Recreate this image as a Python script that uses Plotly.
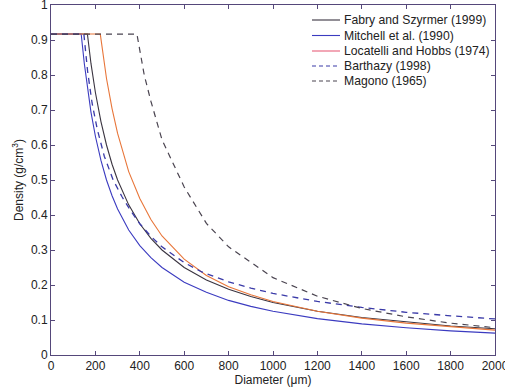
import plotly.graph_objects as go

# Fabry and Szyrmer (1999)
fabry_d = [0, 164, 180, 200, 225, 250, 275, 300, 350, 400, 450, 500, 600, 700, 800, 900, 1000, 1200, 1400, 1600, 1800, 2000]
fabry_rho = [0.917, 0.917, 0.833, 0.75, 0.667, 0.60, 0.545, 0.50, 0.429, 0.375, 0.333, 0.30, 0.25, 0.214, 0.188, 0.167, 0.15, 0.125, 0.107, 0.094, 0.083, 0.075]

# Mitchell et al. (1990)
mitchell_d = [0, 136, 150, 165, 180, 200, 225, 250, 275, 300, 350, 400, 450, 500, 600, 700, 800, 900, 1000, 1200, 1400, 1600, 1800, 2000]
mitchell_rho = [0.917, 0.917, 0.833, 0.758, 0.694, 0.625, 0.556, 0.50, 0.455, 0.417, 0.357, 0.3125, 0.278, 0.25, 0.208, 0.179, 0.156, 0.139, 0.125, 0.104, 0.089, 0.078, 0.069, 0.0625]

# Locatelli and Hobbs (1974)
locatelli_d = [0, 222, 250, 275, 300, 350, 400, 450, 500, 600, 700, 800, 900, 1000, 1200, 1400, 1600, 1800, 2000]
locatelli_rho = [0.917, 0.917, 0.79, 0.704, 0.633, 0.524, 0.447, 0.387, 0.34, 0.274, 0.227, 0.195, 0.172, 0.153, 0.125, 0.1055, 0.091, 0.080, 0.071]

# Barthazy (1998)
barthazy_d = [0, 148, 165, 185, 208, 240, 280, 320, 357, 400, 450, 500, 600, 677, 800, 900, 1000, 1200, 1400, 1600, 1800, 2000]
barthazy_rho = [0.917, 0.917, 0.81, 0.72, 0.646, 0.568, 0.50, 0.452, 0.414, 0.375, 0.339, 0.309, 0.264, 0.238, 0.209, 0.191, 0.176, 0.153, 0.136, 0.122, 0.112, 0.103]

# Magono (1965)
magono_d = [0, 387, 420, 450, 500, 550, 600, 700, 800, 900, 1000, 1200, 1400, 1600, 1800, 2000]
magono_rho = [0.917, 0.917, 0.80, 0.725, 0.615, 0.545, 0.48, 0.376, 0.309, 0.265, 0.221, 0.168, 0.133, 0.109, 0.091, 0.078]

x_ticks = [0, 200, 400, 600, 800, 1000, 1200, 1400, 1600, 1800, 2000]
y_ticks = [0, 0.1, 0.2, 0.3, 0.4, 0.5, 0.6, 0.7, 0.8, 0.9, 1]
y_tick_labels = ["0", "0.1", "0.2", "0.3", "0.4", "0.5", "0.6", "0.7", "0.8", "0.9", "1"]

series = [
    ("Fabry and Szyrmer (1999)", fabry_d, fabry_rho, dict(color="#3a3440", width=1.1)),
    ("Mitchell et al. (1990)", mitchell_d, mitchell_rho, dict(color="#3b3bc0", width=1.1)),
    ("Locatelli and Hobbs (1974)", locatelli_d, locatelli_rho, dict(color="#e8763a", width=1.1)),
    ("Barthazy (1998)", barthazy_d, barthazy_rho, dict(color="#3a3aa8", width=1.3, dash="6px,5px")),
    ("Magono (1965)", magono_d, magono_rho, dict(color="#4a4450", width=1.2, dash="6px,5px")),
]

legend_line_colors = ["#3a3440", "#3b3bc0", "#e8607a", "#3a3aa8", "#4a4450"]

fig = go.Figure()
for name, xd, yd, ln in series:
    fig.add_trace(go.Scatter(x=xd, y=yd, mode="lines", name=name, line=ln, showlegend=False))

# Compact legend (tight row spacing as in the original)
x0_px, x1_px, xt_px = 312, 340, 342
plot_l, plot_w, plot_b, plot_h = 51, 444, 355, 350
row_y_px = [20, 35.5, 51, 66, 81]
for (name, _, _, ln), col, ypx in zip(series, legend_line_colors, row_y_px):
    yp = (plot_b - ypx) / plot_h
    fig.add_shape(type="line", xref="paper", yref="paper",
                  x0=(x0_px - plot_l) / plot_w, x1=(x1_px - plot_l) / plot_w, y0=yp, y1=yp,
                  line=dict(color=col, width=1.1, dash="4px,3px" if "dash" in ln else "solid"))
    fig.add_annotation(xref="paper", yref="paper", x=(xt_px - plot_l) / plot_w, y=yp,
                       xanchor="left", yanchor="middle", showarrow=False, text=name,
                       font=dict(size=12.2, color="#222222"))

axis_color = "#55487a"
fig.update_layout(
    width=505, height=387,
    margin=dict(l=51, r=10, t=5, b=32, autoexpand=False),
    paper_bgcolor="white", plot_bgcolor="white",
    font=dict(family="Liberation Sans, Arial, sans-serif", size=12, color="#222222"),
    showlegend=False,
    xaxis=dict(range=[0, 2000], tickvals=x_ticks, ticks="inside", ticklen=4,
               showline=True, linecolor=axis_color, linewidth=1, mirror="allticks",
               tickcolor=axis_color, showgrid=False, zeroline=False, ticklabeloverflow="allow",
               automargin=False, tickfont=dict(size=12),
               title=dict(text="Diameter (μm)", standoff=1, font=dict(size=12))),
    yaxis=dict(range=[0, 1], tickvals=y_ticks, ticktext=y_tick_labels, ticks="inside", ticklen=4,
               showline=True, linecolor=axis_color, linewidth=1, mirror="allticks",
               tickcolor=axis_color, showgrid=False, zeroline=False, ticklabeloverflow="allow",
               automargin=False, tickfont=dict(size=12),
               title=dict(text="Density (g/cm<sup>3</sup>)", standoff=4, font=dict(size=12))),
)

fig.write_html("out.html")
